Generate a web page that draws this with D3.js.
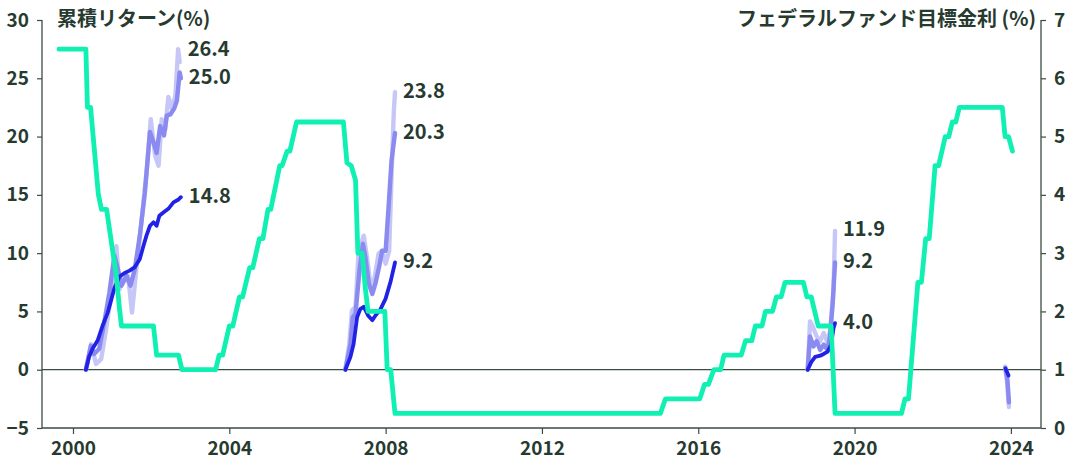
<!DOCTYPE html>
<html>
<head>
<meta charset="utf-8">
<script src="https://cdn.jsdelivr.net/npm/d3@7"></script>
<style>
  body { margin: 0; background: #fff; }
  svg { display: block; font-family: "Noto Sans CJK JP", "Noto Sans", sans-serif; }
</style>
</head>
<body>
<div id="vis-holder"></div>
<script>
// fed funds target rate (upper bound), [year, %]
const fedFunds = [
  [1999.64, 6.5], [2000.33, 6.5], [2000.37, 5.5], [2000.45, 5.5], [2000.65, 4.0], [2000.73, 3.75],
  [2000.86, 3.75], [2000.98, 3.2], [2001.11, 2.6], [2001.19, 2.05], [2001.24, 1.75], [2002.06, 1.75],
  [2002.14, 1.25], [2002.70, 1.25], [2002.79, 1.0], [2003.65, 1.0], [2003.74, 1.25], [2003.83, 1.25],
  [2004.0, 1.75], [2004.09, 1.75], [2004.26, 2.25], [2004.34, 2.25], [2004.52, 2.75], [2004.60, 2.75],
  [2004.77, 3.25], [2004.86, 3.25], [2004.99, 3.75], [2005.06, 3.75], [2005.29, 4.5], [2005.35, 4.5],
  [2005.48, 4.75], [2005.55, 4.75], [2005.72, 5.25], [2006.92, 5.25], [2007.01, 4.55], [2007.12, 4.5],
  [2007.23, 4.25], [2007.29, 3.0], [2007.40, 3.0], [2007.48, 2.4], [2007.55, 2.0], [2007.98, 2.0],
  [2008.04, 1.0], [2008.13, 1.0], [2008.24, 0.25], [2015.03, 0.25], [2015.16, 0.5], [2016.04, 0.5],
  [2016.16, 0.75], [2016.26, 0.75], [2016.40, 1.0], [2016.57, 1.0], [2016.66, 1.25], [2017.10, 1.25],
  [2017.21, 1.5], [2017.37, 1.5], [2017.46, 1.75], [2017.63, 1.75], [2017.72, 2.0], [2017.90, 2.0],
  [2018.0, 2.25], [2018.12, 2.25], [2018.22, 2.5], [2018.69, 2.5], [2018.78, 2.25], [2018.89, 2.25],
  [2019.07, 1.75], [2019.40, 1.75], [2019.50, 0.25], [2021.20, 0.25], [2021.29, 0.5], [2021.38, 0.5],
  [2021.62, 2.5], [2021.71, 2.5], [2021.82, 3.25], [2021.91, 3.25], [2022.0, 4.0], [2022.06, 4.5],
  [2022.15, 4.5], [2022.32, 5.0], [2022.41, 5.0], [2022.50, 5.25], [2022.59, 5.25], [2022.68, 5.5],
  [2023.78, 5.5], [2023.85, 5.0], [2023.94, 5.0], [2024.04, 4.75]
];

// cumulative returns after first cut, [year, %]
const ret2000Dark = [
  [2000.33, 0], [2000.41, 1.1], [2000.50, 1.8], [2000.63, 2.5], [2000.76, 3.8], [2000.89, 4.9],
  [2000.98, 6.0], [2001.06, 7.0], [2001.19, 8.0], [2001.32, 8.3], [2001.45, 8.5], [2001.58, 8.8],
  [2001.71, 9.5], [2001.80, 10.6], [2001.88, 11.5], [2001.97, 12.35], [2002.06, 12.65], [2002.14, 12.35],
  [2002.21, 13.2], [2002.32, 13.5], [2002.44, 13.8], [2002.57, 14.35], [2002.70, 14.6], [2002.76, 14.8]
];
const ret2000Mid = [
  [2000.33, 0], [2000.46, 2.05], [2000.54, 1.35], [2000.67, 1.8], [2000.80, 4.05], [2000.93, 6.6],
  [2001.06, 9.8], [2001.15, 8.6], [2001.24, 7.2], [2001.37, 8.05], [2001.47, 7.2], [2001.58, 8.6],
  [2001.71, 11.5], [2001.84, 15.2], [2001.97, 20.4], [2002.06, 19.5], [2002.14, 18.6], [2002.23, 20.9],
  [2002.33, 20.1], [2002.40, 21.8], [2002.49, 21.9], [2002.59, 22.4], [2002.66, 23.1], [2002.73, 25.5],
  [2002.76, 25.0]
];
const ret2000Light = [
  [2000.33, 0], [2000.46, 2.2], [2000.59, 0.5], [2000.72, 0.9], [2000.85, 3.5], [2000.98, 6.6],
  [2001.11, 10.6], [2001.19, 6.9], [2001.30, 8.05], [2001.41, 8.05], [2001.51, 4.9], [2001.62, 8.6],
  [2001.75, 12.6], [2001.88, 16.9], [2001.99, 21.5], [2002.10, 18.4], [2002.19, 17.5], [2002.27, 21.5],
  [2002.36, 20.6], [2002.44, 23.4], [2002.53, 22.4], [2002.62, 23.5], [2002.69, 27.5], [2002.73, 26.4]
];
const ret2007Dark = [
  [2006.97, 0], [2007.10, 1.1], [2007.18, 2.2], [2007.27, 4.5], [2007.35, 5.2], [2007.44, 5.4],
  [2007.55, 4.65], [2007.66, 4.25], [2007.74, 4.65], [2007.87, 5.2], [2008.0, 6.1], [2008.13, 7.6],
  [2008.24, 9.2]
];
const ret2007Mid = [
  [2006.97, 0], [2007.10, 2.2], [2007.16, 4.5], [2007.23, 4.8], [2007.33, 8.5], [2007.42, 10.8],
  [2007.48, 9.7], [2007.57, 7.4], [2007.66, 6.5], [2007.74, 7.4], [2007.85, 9.1], [2007.91, 10.2],
  [2008.0, 10.2], [2008.07, 13.7], [2008.15, 17.9], [2008.24, 20.3]
];
const ret2007Light = [
  [2006.97, 0], [2007.07, 2.2], [2007.14, 5.1], [2007.23, 5.4], [2007.31, 10.2], [2007.44, 11.5],
  [2007.52, 9.7], [2007.63, 6.8], [2007.72, 7.95], [2007.82, 9.95], [2007.91, 10.2], [2008.0, 9.1],
  [2008.09, 10.2], [2008.15, 16.5], [2008.21, 22.2], [2008.24, 23.8]
];
const ret2019Dark = [
  [2018.80, 0], [2018.89, 0.65], [2018.99, 1.1], [2019.12, 1.2], [2019.21, 1.35], [2019.31, 1.55],
  [2019.40, 2.15], [2019.46, 3.55], [2019.50, 4.0]
];
const ret2019Mid = [
  [2018.80, 0], [2018.86, 2.85], [2018.95, 2.0], [2019.03, 2.45], [2019.12, 1.7], [2019.21, 2.15],
  [2019.31, 1.7], [2019.37, 2.85], [2019.44, 5.7], [2019.50, 9.2]
];
const ret2019Light = [
  [2018.80, 0], [2018.86, 4.15], [2018.93, 3.7], [2019.03, 2.85], [2019.12, 2.45], [2019.21, 3.15],
  [2019.31, 2.3], [2019.38, 3.45], [2019.46, 6.85], [2019.50, 11.9]
];
const ret2024Dark = [[2023.86, 0.1], [2023.94, -0.5]];
const ret2024Mid = [[2023.86, 0.15], [2023.91, -0.8], [2023.95, -2.8]];
const ret2024Light = [[2023.85, 0.25], [2023.90, -1.05], [2023.95, -3.2]];

const yearTicks = [2000, 2004, 2008, 2012, 2016, 2020, 2024];
const retTicks = [-5, 0, 5, 10, 15, 20, 25, 30];
const rateTicks = [0, 1, 2, 3, 4, 5, 6, 7];

const leftTitle = "累積リターン(%)";
const rightTitle = "フェデラルファンド目標金利 (%)";

// episodes: which series get an end label
const episodes = [
  { series: [ret2000Light, ret2000Mid, ret2000Dark], labelled: true },
  { series: [ret2007Light, ret2007Mid, ret2007Dark], labelled: true },
  { series: [ret2019Light, ret2019Mid, ret2019Dark], labelled: true },
  { series: [ret2024Light, ret2024Mid, ret2024Dark], labelled: false }
];
const seriesColors = ["#c6c6f7", "#8a8af0", "#2222e6"];

const w = 1080;
const h = 461;
const inkColor = "#273a30";
const axisColor = "#3b4c42";

const svg = d3.select("#vis-holder").append("svg")
  .attr("width", w).attr("height", h);

const x = d3.scaleLinear().domain([1999.207, 2024.77]).range([42, 1041]);
const yL = d3.scaleLinear().domain([-5, 30]).range([428, 20]);
const yR = d3.scaleLinear().domain([0, 7]).range([428, 20]);

// axes
const gx = svg.append("g").attr("transform", "translate(0,428)")
  .call(d3.axisBottom(x).tickValues(yearTicks).tickFormat(d3.format("d")).tickSize(6).tickPadding(8));
const gl = svg.append("g").attr("transform", "translate(42,0)")
  .call(d3.axisLeft(yL).tickValues(retTicks).tickFormat(d3.format("d")).tickSize(5).tickPadding(8));
const gr = svg.append("g").attr("transform", "translate(1041,0)")
  .call(d3.axisRight(yR).tickValues(rateTicks).tickFormat(d3.format("d")).tickSize(5).tickPadding(8));

[gx, gl, gr].forEach(g => {
  g.select(".domain").attr("stroke", axisColor).attr("stroke-width", 1.3);
  g.selectAll(".tick line").attr("stroke", axisColor).attr("stroke-width", 1.2);
  g.selectAll(".tick text").attr("fill", inkColor)
    .style("font-size", "19px").style("font-weight", 700)
    .style("font-family", "'Noto Sans CJK JP', 'Noto Sans', sans-serif");
});
gl.select(".domain").attr("d", "M0,20V428");
gr.select(".domain").attr("d", "M0,20V428");
gx.select(".domain").attr("d", "M42,0H1041");

// zero line
svg.append("line")
  .attr("x1", 42).attr("x2", 1041)
  .attr("y1", yL(0)).attr("y2", yL(0))
  .attr("stroke", axisColor).attr("stroke-width", 1.2);

// titles
svg.append("text").attr("x", 57).attr("y", 21)
  .attr("dominant-baseline", "middle")
  .attr("fill", inkColor).style("font-size", "20px").style("font-weight", 700)
  .text(leftTitle);
svg.append("text").attr("x", 1036).attr("y", 21)
  .attr("text-anchor", "end").attr("dominant-baseline", "middle")
  .attr("fill", inkColor).style("font-size", "20px").style("font-weight", 700)
  .text(rightTitle);

const retLine = d3.line().x(d => x(d[0])).y(d => yL(d[1])).curve(d3.curveLinear);
const rateLine = d3.line().x(d => x(d[0])).y(d => yR(d[1]));

// return lines, light at the back
episodes.forEach(ep => {
  svg.append("g").selectAll("path")
    .data(ep.series)
    .enter()
    .append("path")
    .attr("d", retLine)
    .attr("fill", "none")
    .attr("stroke", (d, i) => seriesColors[i])
    .attr("stroke-width", (d, i) => i == 2 ? 3.8 : 4.4)
    .attr("stroke-linejoin", "round")
    .attr("stroke-linecap", "round");
});

// fed funds on top
svg.append("path")
  .datum(fedFunds)
  .attr("d", rateLine)
  .attr("fill", "none")
  .attr("stroke", "#10f0b2")
  .attr("stroke-width", 4.8)
  .attr("stroke-linejoin", "round")
  .attr("stroke-linecap", "round");

// end labels, pushed apart when they crowd
episodes.filter(ep => ep.labelled).forEach(ep => {
  let labs = ep.series.map(s => {
    const last = s[s.length - 1];
    return { x: x(last[0]) + 8, y: yL(last[1]), text: last[1].toFixed(1) };
  }).sort((a, b) => b.y - a.y);
  for (let i = 1; i < labs.length; i++) {
    if (labs[i - 1].y - labs[i].y < 28) labs[i].y = labs[i - 1].y - 28;
  }
  svg.append("g").selectAll("text")
    .data(labs)
    .enter()
    .append("text")
    .attr("x", d => d.x)
    .attr("y", d => d.y)
    .attr("dominant-baseline", "middle")
    .attr("fill", inkColor)
    .style("font-size", "20px")
    .style("font-weight", 700)
    .text(d => d.text);
});
</script>
</body>
</html>
